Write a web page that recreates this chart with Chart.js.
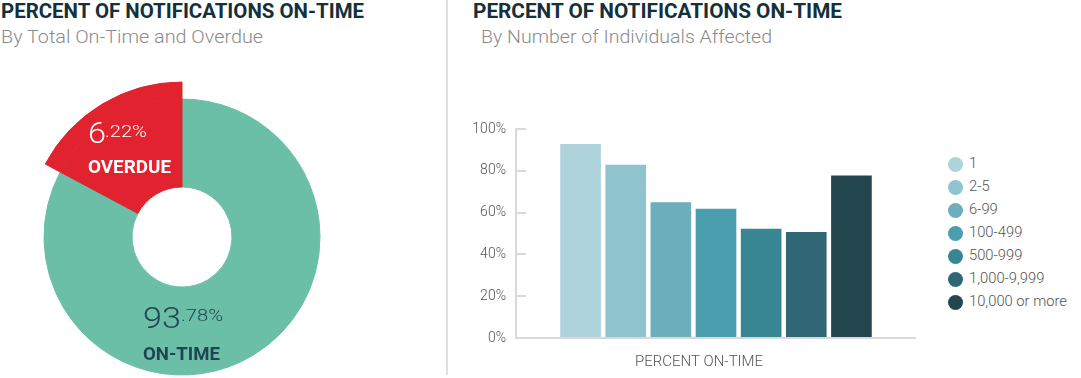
<!DOCTYPE html>
<html><head><meta charset="utf-8">
<script src="https://cdn.jsdelivr.net/npm/chart.js@4.4.1/dist/chart.umd.min.js"></script>
<style>
html,body{margin:0;padding:0;background:#fff}
#root{position:relative;width:1081px;height:378px;overflow:hidden;font-family:Roboto,"Open Sans",sans-serif}
.t{position:absolute;white-space:nowrap;transform-origin:0 0;line-height:1;display:inline-block}
.title{font-weight:700;font-size:20px;color:#13303b}
.sub{font-weight:300;font-size:19px;color:#8b8b8b}
.lg{position:absolute;left:947.5px;width:15px;height:15px;border-radius:50%}
.lgt{font-size:15px;font-weight:300;color:#555}
canvas{position:absolute}
</style></head><body>
<div id="root">
  <div class="t title" id="t1" data-w="363" style="left:0.5px;top:0.5px"></div>
  <div class="t sub" id="s1" data-w="262" style="left:1px;top:27.3px"></div>
  <div style="position:absolute;left:446px;top:0;width:2px;height:375px;background:#e0e0e0"></div>
  <div class="t title" id="t2" data-w="369" style="left:473px;top:0.5px"></div>
  <div class="t sub" id="s2" data-w="291" style="left:481px;top:27.3px"></div>

  <canvas id="donut" width="320" height="320" style="left:22px;top:77px;width:320px;height:320px"></canvas>
  <div class="t" id="ovBig" data-w="18" style="left:87.5px;top:117.8px;font-size:30px;font-weight:300;color:#fff"></div>
  <div class="t" id="ovSmall" data-w="42" style="left:105px;top:122.7px;font-size:17px;font-weight:300;color:#fff"></div>
  <div class="t" id="ovLab" data-w="83" style="left:88px;top:158.6px;font-size:17.5px;font-weight:700;color:#fff"></div>
  <div class="t" id="otBig" data-w="38" style="left:142.5px;top:302.8px;font-size:30px;font-weight:300;color:#1f4650"></div>
  <div class="t" id="otSmall" data-w="42" style="left:180.5px;top:307.5px;font-size:16px;font-weight:300;color:#1f4650"></div>
  <div class="t" id="otLab" data-w="77" style="left:143px;top:344.9px;font-size:18px;font-weight:700;color:#1f4650"></div>

  <canvas id="bars" width="446" height="278" style="left:470px;top:100px;width:446px;height:278px"></canvas>
  <div id="legend"></div>
</div>
<script>
// ---- data ----
const chartTitles = ['PERCENT OF NOTIFICATIONS ON-TIME', 'PERCENT OF NOTIFICATIONS ON-TIME'];
const chartSubtitles = ['By Total On-Time and Overdue', 'By Number of Individuals Affected'];

const donutLabels = ['ON-TIME', 'OVERDUE'];
const donutPrinted = ['93.78', '6.22'];      // values printed on the chart
const donutDrawnShare = [82.8, 17.2];        // slice sizes as drawn in the picture

const barAxisLabel = 'PERCENT ON-TIME';
const barCategories = ['1', '2-5', '6-99', '100-499', '500-999', '1,000-9,999', '10,000 or more'];
const barValues = [92.8, 82.9, 65.0, 61.8, 52.3, 50.7, 77.7];
const yTickLabels = ['0%', '20%', '40%', '60%', '80%', '100%'];

// ---- styles ----
const TEAL = '#6bbfa7', RED = '#e0232e';
const barColors = ['#aed3db', '#8fc3cd', '#6caebb', '#4a9eae', '#388693', '#306774', '#23464f'];
const AXIS = '#d9d9d9';
const TICKC = '#555555';

document.getElementById('t1').textContent = chartTitles[0];
document.getElementById('t2').textContent = chartTitles[1];
document.getElementById('s1').textContent = chartSubtitles[0];
document.getElementById('s2').textContent = chartSubtitles[1];
const [otInt, otDec] = donutPrinted[0].split('.');
const [ovInt, ovDec] = donutPrinted[1].split('.');
document.getElementById('otBig').textContent = otInt;
document.getElementById('otSmall').textContent = '.' + otDec + '%';
document.getElementById('otLab').textContent = donutLabels[0];
document.getElementById('ovBig').textContent = ovInt;
document.getElementById('ovSmall').textContent = '.' + ovDec + '%';
document.getElementById('ovLab').textContent = donutLabels[1];

// doughnut: outer band carries only the overdue slice, inner band both slices
const OUTER_R = 155, TEAL_R = 138, HOLE_R = 50;
new Chart(document.getElementById('donut'), {
  type: 'doughnut',
  data: {
    labels: donutLabels,
    datasets: [
      {data: donutDrawnShare, backgroundColor: ['rgba(0,0,0,0)', RED], borderColor: ['rgba(0,0,0,0)', RED], borderWidth: 1, weight: OUTER_R - TEAL_R},
      {data: donutDrawnShare, backgroundColor: [TEAL, RED], borderColor: [TEAL, RED], borderWidth: 1, weight: TEAL_R - HOLE_R}
    ]
  },
  options: {
    responsive: false, animation: false,
    radius: OUTER_R,
    cutout: (HOLE_R / OUTER_R * 100) + '%',
    layout: {padding: 0},
    plugins: {legend: {display: false}, tooltip: {enabled: false}}
  }
});

const tickFont = {family: 'Roboto', size: 14, weight: 300};
new Chart(document.getElementById('bars'), {
  type: 'bar',
  data: {
    labels: [barAxisLabel],
    datasets: barCategories.map((c, i) => ({
      label: c, data: [barValues[i]], backgroundColor: barColors[i], borderWidth: 0,
      categoryPercentage: 0.79, barPercentage: 0.9
    }))
  },
  options: {
    responsive: false, animation: false,
    layout: {padding: {top: 29, right: 0, bottom: 0, left: 0}},
    plugins: {legend: {display: false}, tooltip: {enabled: false}},
    scales: {
      x: {
        grid: {display: false},
        border: {display: true, color: AXIS, width: 2},
        ticks: {color: TICKC, font: {family: 'Roboto', size: 15, weight: 300}, padding: 7, labelOffset: -17},
        afterFit(s) { s.height = 40; }
      },
      y: {
        min: 0, max: 100,
        ticks: {stepSize: 20, color: TICKC, font: tickFont, padding: 20,
                callback: (v, i) => yTickLabels[i]},
        grid: {drawOnChartArea: false, drawTicks: true, tickLength: -10, color: AXIS, lineWidth: 2},
        border: {display: true, color: AXIS, width: 2},
        afterFit(s) { s.width = 46; }
      }
    }
  }
});

// legend
const lg = document.getElementById('legend');
barCategories.forEach((c, i) => {
  const dot = document.createElement('div');
  dot.className = 'lg';
  dot.style.background = barColors[i];
  dot.style.top = (164 - 7.5 + i * 23.05) + 'px';
  lg.appendChild(dot);
  const t = document.createElement('div');
  t.className = 't lgt';
  t.textContent = c;
  t.style.left = '969px';
  t.style.top = (155.9 + i * 23.05) + 'px';
  lg.appendChild(t);
});

function fitAll() {
  document.querySelectorAll('[data-w]').forEach(el => {
    const w = el.getBoundingClientRect().width;
    if (w > 0) el.style.transform = 'scaleX(' + (parseFloat(el.dataset.w) / w) + ')';
  });
  const lts = document.querySelectorAll('.lgt');
  const longest = lts[lts.length - 1].getBoundingClientRect().width;
  const f = 98 / longest;
  lts.forEach(el => el.style.transform = 'scaleX(' + f + ')');
}
fitAll();
</script>
</body></html>
